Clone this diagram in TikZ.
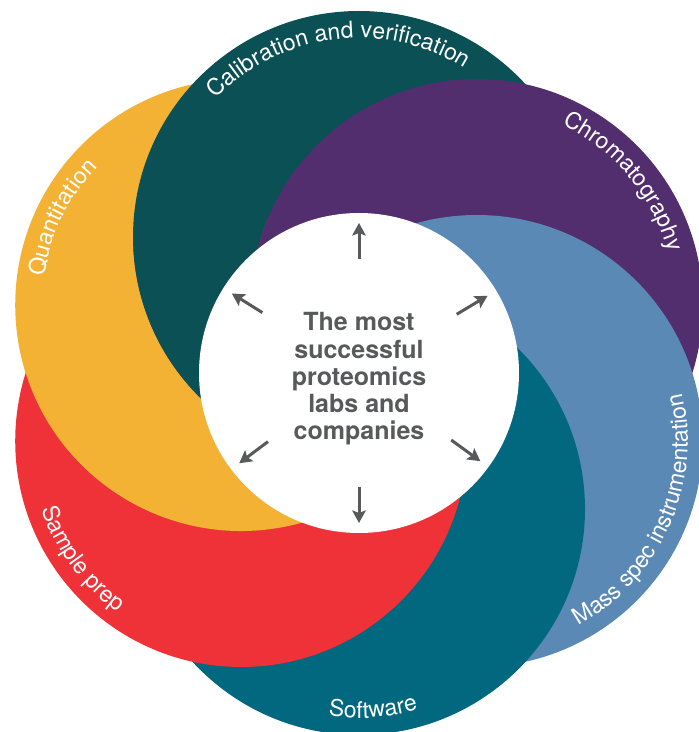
\documentclass[tikz,border=0pt]{standalone}
\usepackage{fontspec}
\setmainfont{TeX Gyre Heros}
\usetikzlibrary{calc,arrows.meta,decorations.text}

\definecolor{quantyellow}{HTML}{F4B234}
\definecolor{calibteal}{HTML}{0B5055}
\definecolor{chrompurple}{HTML}{522E6E}
\definecolor{massblue}{HTML}{5A89B5}
\definecolor{softteal}{HTML}{02687F}
\definecolor{prepred}{HTML}{EE3237}
\definecolor{hubgray}{HTML}{58595B}

\newcommand\ringfont{\fontsize{23}{27}\selectfont}

% Part of ring #1 (radius 226pt) that lies outside the next ring clockwise;
% #2 is the direction from ring #1 towards that next ring, #3 the colour.
% Neighbouring ring centres are 136pt apart, so the rims cross at +-acos(68/226).
\newcommand\ringcrescent[3]{%
  \pgfmathsetmacro\crA{#2+acos(68/226)}%
  \pgfmathsetmacro\crB{#2+360-acos(68/226)}%
  \pgfmathsetmacro\crC{#2+180+acos(68/226)}%
  \pgfmathsetmacro\crD{#2+180-acos(68/226)}%
  \fill[#3] ($(#1)+(\crA:226pt)$)
    arc[start angle=\crA, end angle=\crB, radius=226pt]
    arc[start angle=\crC, end angle=\crD, radius=226pt] -- cycle;%
}

\begin{document}
\begin{tikzpicture}[x=1pt,y=1pt,
  hubarrow/.style={draw=hubgray, line width=3pt,
    -{Stealth[length=12.5pt,width=13.5pt,inset=2.5pt]}},
  hubtext/.style={align=center, text=hubgray,
    font=\fontsize{25}{27.25}\selectfont\bfseries},
  ringlabel/.style={decorate, decoration={text along path,
    text align=center, text color=white, text={|\ringfont|#1}}}
  ]
\useasboundingbox (0,0) rectangle (699,732);

% hub and the six ring centres, 60 degrees apart
\coordinate (hub) at (359,359);
\coordinate (cq) at ($(hub)+(150:136pt)$);  % Quantitation
\coordinate (cc) at ($(hub)+(90:136pt)$);   % Calibration and verification
\coordinate (cp) at ($(hub)+(30:136pt)$);   % Chromatography
\coordinate (cm) at ($(hub)+(-30:136pt)$);  % Mass spec instrumentation
\coordinate (cs) at ($(hub)+(-90:136pt)$);  % Software
\coordinate (cr) at ($(hub)+(-150:136pt)$); % Sample prep

\begin{scope}
  \clip (0,0) rectangle (699,732);
  \fill[quantyellow] (cq) circle[radius=226pt];
  \fill[calibteal]   (cc) circle[radius=226pt];
  \fill[chrompurple] (cp) circle[radius=226pt];
  \fill[massblue]    (cm) circle[radius=226pt];
  \fill[softteal]    (cs) circle[radius=226pt];
  \fill[prepred]     (cr) circle[radius=226pt];
  % close the cycle on the left: yellow, then teal, then purple go back
  % over the red ring, each as the crescent it shows outside its successor
  \begin{scope}
    \clip (cr) circle[radius=228pt];
    \clip (0,0) rectangle (359,732);
    \ringcrescent{cq}{30}{quantyellow}
    \ringcrescent{cc}{-30}{calibteal}
    \ringcrescent{cp}{-90}{chrompurple}
  \end{scope}
  \fill[white] (hub) circle[radius=160pt];
\end{scope}

% curved ring labels
\path[ringlabel={Calibration and verification}]
  ($(cc)+(167:199pt)$) arc[start angle=167, end angle=27, radius=199pt];
\path[ringlabel={Chromatography}]
  ($(cp)+(110:199pt)$) arc[start angle=110, end angle=-30, radius=199pt];
\path[ringlabel={Quantitation}]
  ($(cq)+(224:199pt)$) arc[start angle=224, end angle=84, radius=199pt];
\path[ringlabel={Mass spec instrumentation}]
  ($(cm)+(-94:211pt)$) arc[start angle=-94, end angle=46, radius=211pt];
\path[ringlabel={Software}]
  ($(cs)+(-156:209pt)$) arc[start angle=-156, end angle=-16, radius=209pt];
\path[ringlabel={Sample prep}]
  ($(cr)+(146.5:211pt)$) arc[start angle=146.5, end angle=286.5, radius=211pt];

% hub text and arrows
\node[hubtext] (hubtitle) at (359,353)
  {The most\\successful\\proteomics\\labs and\\companies};
\foreach \ang [count=\k] in {90,31,148,217,270,324} {
  \coordinate (ptail\k) at ($(hub)+(\ang:114pt)$);
  \coordinate (phead\k) at ($(hub)+(\ang:150pt)$);
  \draw[hubarrow] (ptail\k) -- (phead\k);
}
\end{tikzpicture}
\end{document}
